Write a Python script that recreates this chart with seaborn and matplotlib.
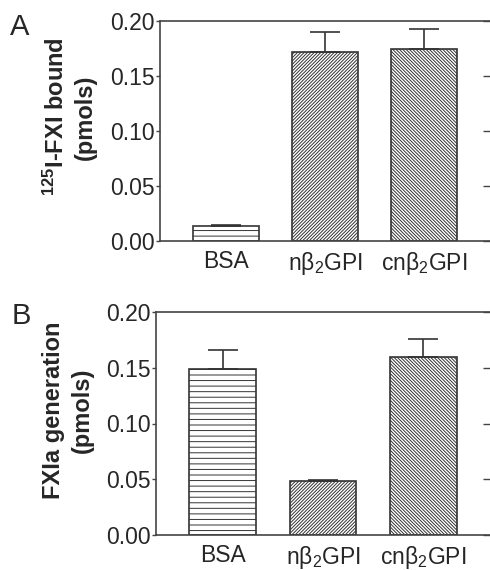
import numpy as np
import pandas as pd
import matplotlib
matplotlib.use('Agg')
import matplotlib.pyplot as plt
import seaborn as sns

# data
groups = ['BSA', 'nβ$_2$GPI', 'cnβ$_2$GPI']
fxi_bound = [0.0136, 0.1715, 0.1745]
fxi_bound_err = [0.0008, 0.0185, 0.0182]
fxia_gen = [0.1493, 0.0487, 0.1597]
fxia_gen_err = [0.0167, 0.0006, 0.0165]
hatches = ['---', '/' * 10, '\\' * 10]

sns.set_style('white')
plt.rcParams['font.family'] = ['Liberation Sans', 'DejaVu Sans']
plt.rcParams['mathtext.fontset'] = 'custom'
plt.rcParams['mathtext.rm'] = 'Liberation Sans'
plt.rcParams['mathtext.it'] = 'Liberation Sans:italic'
plt.rcParams['mathtext.bf'] = 'Liberation Sans:bold'
plt.rcParams['hatch.color'] = '#555555'
plt.rcParams['hatch.linewidth'] = 0.7

edge = '#333333'

fig = plt.figure(figsize=(4.9, 5.7), dpi=100)
ax_a = fig.add_axes([160 / 490, 1 - 241 / 570, 330 / 490, 220 / 570])
ax_b = fig.add_axes([156 / 490, 1 - 535 / 570, 334 / 490, 223 / 570])


def draw_panel(ax, vals, errs):
    df = pd.DataFrame({'group': groups, 'value': vals})
    sns.barplot(data=df, x='group', y='value', ax=ax, color='white',
                width=0.667, edgecolor=edge, linewidth=1.2, errorbar=None)
    for patch, h in zip(ax.patches, hatches):
        patch.set_hatch(h)
    ax.errorbar(range(len(vals)), vals, yerr=[np.zeros(len(vals)), errs],
                fmt='none', ecolor=edge, elinewidth=1.2, capsize=11,
                capthick=1.2, zorder=1)
    ax.set_xlim(-0.667, 2.667)
    ax.set_ylim(0, 0.2)
    ax.set_yticks([0, 0.05, 0.10, 0.15, 0.20])
    ax.set_yticklabels(['0.00', '0.05', '0.10', '0.15', '0.20'])
    ax.set_xlabel('')
    ax.set_ylabel('')
    for s in ['left', 'top', 'bottom']:
        ax.spines[s].set_color('#444444')
        ax.spines[s].set_linewidth(1.2)
    ax.spines['right'].set_visible(False)
    ax.tick_params(axis='y', labelsize=16.5, length=3, width=1,
                   color='#444444', pad=1)
    ax.yaxis.set_ticks_position('both')
    for t in ax.yaxis.get_major_ticks():
        t.tick2line.set_marker(matplotlib.lines.TICKLEFT)
        t.tick2line.set_markersize(5)
    ax.tick_params(axis='x', bottom=False, labelsize=16.5, pad=3)


draw_panel(ax_a, fxi_bound, fxi_bound_err)
draw_panel(ax_b, fxia_gen, fxia_gen_err)

fig.text(70 / 490, 1 - 117 / 570, '$^{\\mathbf{125}}$I-FXI bound\n(pmols)',
         rotation=90, ha='center', va='center', ma='center',
         fontsize=17, fontweight='bold', linespacing=1.3)
fig.text(68 / 490, 1 - 410 / 570, 'FXIa generation\n(pmols)',
         rotation=90, ha='center', va='center', ma='center',
         fontsize=17, fontweight='bold', linespacing=1.3)

fig.text(10 / 490, 1 - 35 / 570, 'A', fontsize=21, ha='left', va='baseline')
fig.text(12 / 490, 1 - 324 / 570, 'B', fontsize=21, ha='left', va='baseline')

fig.savefig('out.png', dpi=100)
